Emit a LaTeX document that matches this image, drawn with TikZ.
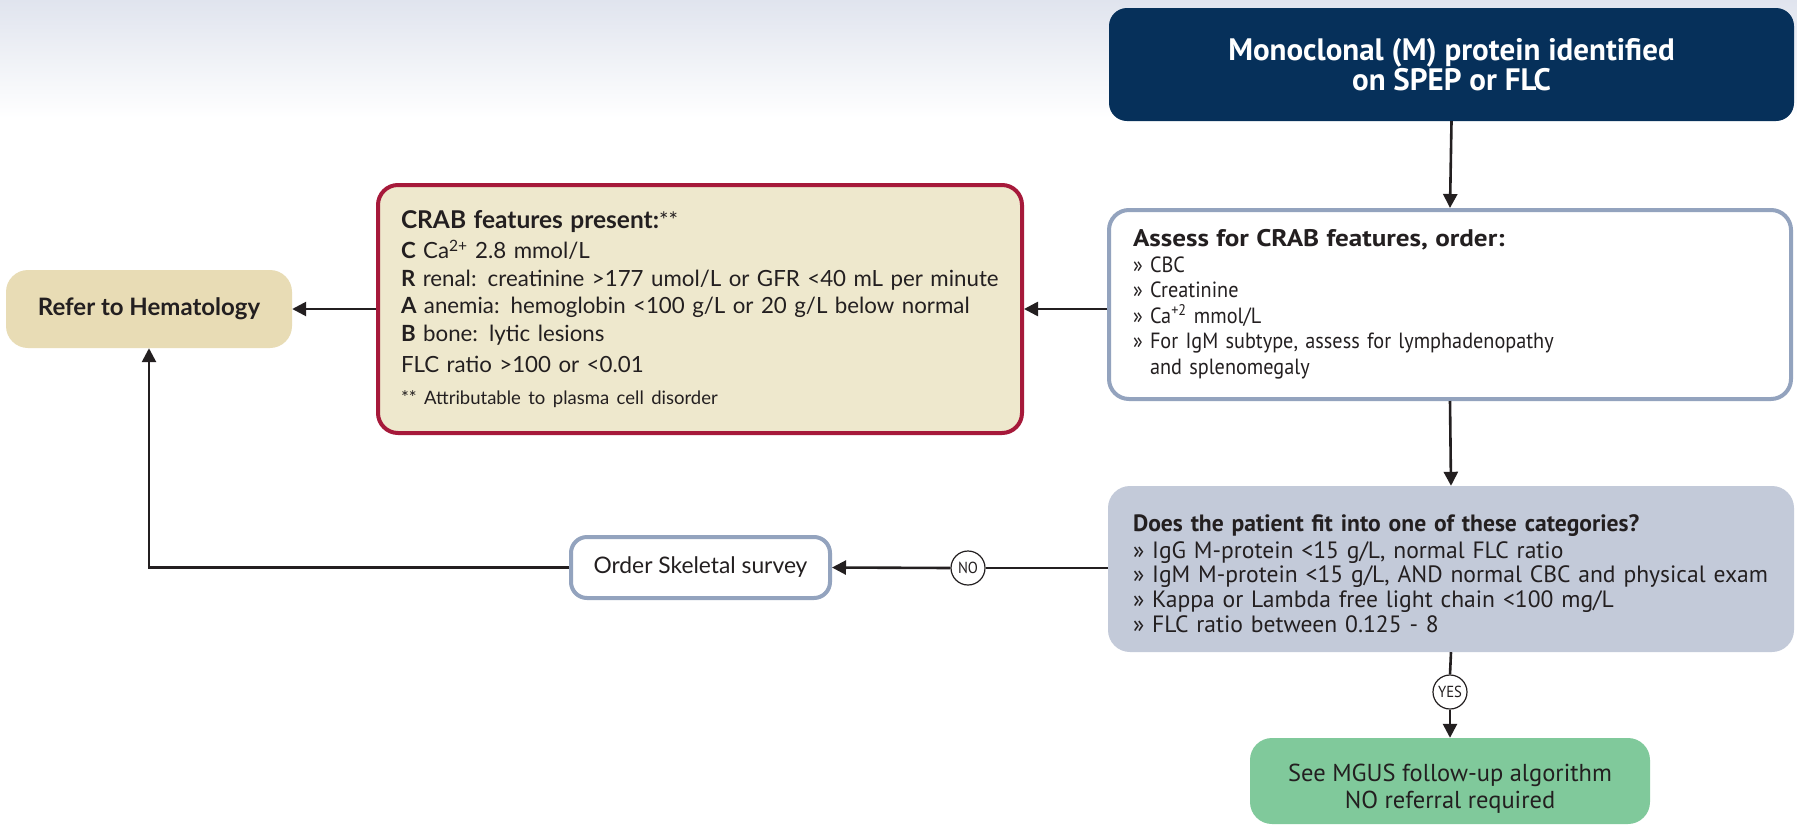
\documentclass[tikz,border=0pt]{standalone}
\usepackage{fontspec}
\setmainfont{Lato}
\newfontfamily\narrowfont{PT Sans}[FakeStretch=0.92]
\newfontfamily\plainnarrow{PT Sans}
\newfontfamily\widebold{PT Sans Bold}[FakeStretch=1.13]
\usetikzlibrary{arrows.meta}

\definecolor{navy}{HTML}{06305A}
\definecolor{steel}{HTML}{93A3BE}
\definecolor{greyblue}{HTML}{C3CAD9}
\definecolor{crimson}{HTML}{A6193A}
\definecolor{cream}{HTML}{EEE8CD}
\definecolor{sand}{HTML}{E8DCB5}
\definecolor{mint}{HTML}{80C99B}
\definecolor{ink}{HTML}{231F20}
\definecolor{haze}{HTML}{E0E4EE}

\tikzset{
  box/.style={rounded corners=20pt, inner sep=0pt, text=ink, align=left},
  navybox/.style={box, fill=navy, text=white, align=center, rounded corners=18pt,
    font=\plainnarrow\bfseries\fontsize{31}{30}\selectfont},
  assessbox/.style={box, draw=steel, line width=4pt, fill=white,
    font=\narrowfont\fontsize{22}{25.5}\selectfont},
  crabbox/.style={box, draw=crimson, line width=4pt, fill=cream,
    font=\fontsize{22.3}{27.5}\selectfont},
  decisionbox/.style={box, fill=greyblue, rounded corners=22pt,
    font=\plainnarrow\fontsize{23.6}{24.7}\selectfont},
  referbox/.style={box, fill=sand, rounded corners=22pt, align=center,
    font=\bfseries\fontsize{24}{24}\selectfont},
  orderbox/.style={box, draw=steel, line width=4pt, fill=white, rounded corners=16pt,
    align=center, font=\fontsize{22.8}{24}\selectfont},
  mgusbox/.style={box, fill=mint, rounded corners=22pt, align=center,
    font=\plainnarrow\fontsize{24.5}{27}\selectfont},
  answer/.style={circle, draw=ink, line width=1.2pt, fill=white, inner sep=0pt,
    minimum size=34pt, text=ink, font=\narrowfont\fontsize{16}{16}\selectfont},
  link/.style={draw=ink, line width=2.6pt},
  arr/.style={link, -{Triangle[length=14pt, width=14pt]}},
}

\begin{document}
\begin{tikzpicture}[x=1pt, y=-1pt]
  \useasboundingbox (0,0) rectangle (1797,825);
  \fill[white] (0,0) rectangle (1797,825);
  % soft band along the top edge
  \shade[top color=haze, bottom color=white] (0,0) rectangle (1797,118);

  % start
  \node[navybox, minimum width=685pt, minimum height=113pt] (start) at (1451.5,64.5)
    {Monoclonal (M) protein identified\\on SPEP or FLC};

  % work-up
  \node[assessbox, minimum width=682pt, minimum height=189pt, text width=634pt] (assess) at (1450,304.5)
    {{\widebold\fontsize{24}{25.5}\selectfont Assess for CRAB features, order:}\\
     » CBC\\
     » Creatinine\\
     » Ca\textsuperscript{+2} mmol/L\\
     » For IgM subtype, assess for lymphadenopathy\\
     \hphantom{» }and splenomegaly};

  % CRAB criteria
  \node[crabbox, minimum width=644pt, minimum height=248pt, text width=598pt] (crab) at (700,309)
    {{\bfseries\fontsize{24.5}{27.5}\selectfont CRAB features present:}**\\[3pt]
     {\bfseries C} Ca\textsuperscript{2+} 2.8 mmol/L\\
     {\bfseries R} renal: creatinine >177 umol/L or GFR <40 mL per minute\\
     {\bfseries A} anemia: hemoglobin <100 g/L or 20 g/L below normal\\
     {\bfseries B} bone: lytic lesions\\[4pt]
     FLC ratio >100 or <0.01\\[4pt]
     {\fontsize{18.5}{20}\selectfont ** Attributable to plasma cell disorder}};

  % referral
  \node[referbox, minimum width=286pt, minimum height=78pt] (refer) at (149,309)
    {Refer to Hematology};

  % MGUS categories
  \node[decisionbox, minimum width=686pt, minimum height=166pt, text width=636pt] (does) at (1451,569)
    {\rule{0pt}{26pt}{\bfseries Does the patient fit into one of these categories?}\\[2pt]
     \mbox{» IgG M-protein <15 g/L, normal FLC ratio}\\
     \mbox{» IgM M-protein <15 g/L, AND normal CBC and physical exam}\\
     \mbox{» Kappa or Lambda free light chain <100 mg/L}\\
     \mbox{» FLC ratio between 0.125 - 8}};

  \node[orderbox, minimum width=259pt, minimum height=61pt] (order) at (700.5,567.5)
    {Order Skeletal survey};

  \node[mgusbox, minimum width=400pt, minimum height=86pt] (mgus) at (1450,781)
    {\rule{0pt}{32pt}See MGUS follow-up algorithm\\NO referral required};

  % answers
  \node[answer] (no) at (968,568) {NO};
  \node[answer] (yes) at (1450,692) {YES};

  % connectors
  \draw[arr] (start.south) -- (assess.north);
  \draw[arr] (assess.south) -- (does.north);
  \draw[arr] (assess.west |- crab.east) -- (crab.east);
  \draw[arr] (crab.west) -- (refer.east);
  \draw[link] (does.west |- no) -- (no.east);
  \draw[arr] (no.west) -- (order.east);
  \draw[arr] (order.west) -| (refer.south);
  \draw[link] (does.south) -- (yes.north);
  \draw[arr] (yes.south) -- (mgus.north);
\end{tikzpicture}
\end{document}
